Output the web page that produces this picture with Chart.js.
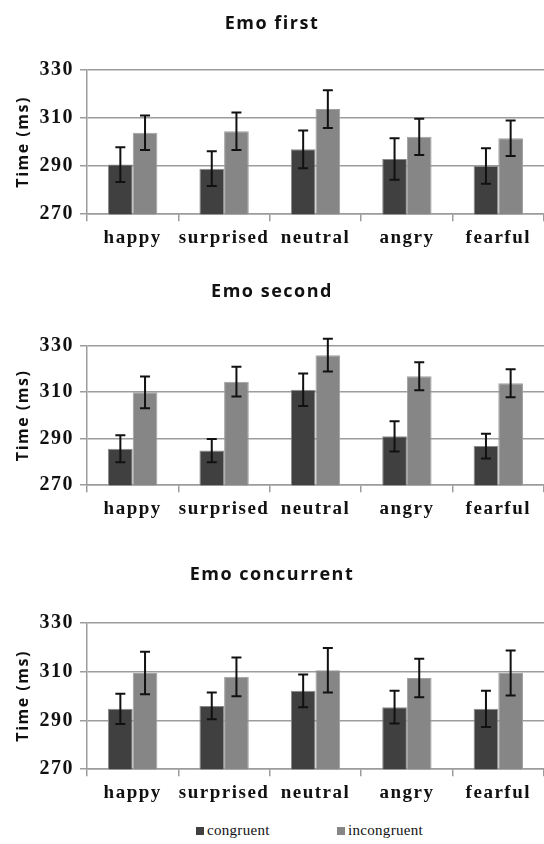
<!DOCTYPE html>
<html>
<head>
<meta charset="utf-8">
<script src="https://cdn.jsdelivr.net/npm/chart.js@4/dist/chart.umd.min.js"></script>
<style>
  body { margin: 0; background: #fff; width: 544px; height: 844px; position: relative; overflow: hidden; }
  .box { position: absolute; left: 0; width: 544px; }
  #legend { position: absolute; top: 822px; left: 0; width: 544px; font: 15px "Liberation Serif", serif; letter-spacing: 0.3px; color: #111; }
  #legend span.item { position: absolute; top: 0; white-space: nowrap; }
  #legend i { display: inline-block; width: 8px; height: 8px; margin-right: 3px; }
</style>
</head>
<body>
<div class="box" style="top:0;height:258px"><canvas id="firstChart"></canvas></div>
<div class="box" style="top:268px;height:261px"><canvas id="secondChart"></canvas></div>
<div class="box" style="top:551px;height:262px"><canvas id="concChart"></canvas></div>
<div id="legend"></div>

<script>
const categories = ["happy", "surprised", "neutral", "angry", "fearful"];
const seriesNames = ["congruent", "incongruent"];
const yTicks = [270, 290, 310, 330];

// Emo first
const firstCong = [290.6, 288.9, 296.9, 292.9, 290.0];
const firstCongErr = [7.2, 7.2, 7.8, 8.6, 7.4];
const firstIncong = [303.8, 304.4, 313.6, 302.1, 301.5];
const firstIncongErr = [7.2, 7.8, 7.8, 7.5, 7.4];

// Emo second
const secondCong = [285.7, 284.9, 311.0, 291.0, 286.8];
const secondCongErr = [5.8, 5.0, 7.0, 6.5, 5.3];
const secondIncong = [309.9, 314.5, 325.9, 316.8, 313.8];
const secondIncongErr = [6.8, 6.4, 7.0, 6.0, 6.0];

// Emo concurrent
const concCong = [294.7, 295.9, 302.1, 295.4, 294.7];
const concCongErr = [6.2, 5.5, 6.7, 6.7, 7.4];
const concIncong = [309.4, 307.8, 310.5, 307.3, 309.4];
const concIncongErr = [8.7, 7.9, 9.1, 7.9, 9.2];

const barColors = ["#404040", "#868686"];
const gridColor = "#9c9c9c";

// the original uses loosely spaced lettering
const spacing = {
  id: "spacing",
  beforeUpdate(chart) { chart.ctx.letterSpacing = "1.5px"; },
  beforeDraw(chart) { chart.ctx.letterSpacing = "1.5px"; }
};

// error bars drawn on top of each bar
const errorBars = {
  id: "errorBars",
  afterDatasetsDraw(chart) {
    const ctx = chart.ctx;
    const y = chart.scales.y;
    ctx.save();
    ctx.strokeStyle = "#111";
    ctx.lineWidth = 2;
    chart.data.datasets.forEach((ds, di) => {
      const meta = chart.getDatasetMeta(di);
      meta.data.forEach((bar, i) => {
        const v = ds.data[i], e = ds.errors[i];
        const top = y.getPixelForValue(v + e);
        const bot = y.getPixelForValue(v - e);
        ctx.beginPath();
        ctx.moveTo(bar.x, top); ctx.lineTo(bar.x, bot);
        ctx.moveTo(bar.x - 5, top); ctx.lineTo(bar.x + 5, top);
        ctx.moveTo(bar.x - 5, bot); ctx.lineTo(bar.x + 5, bot);
        ctx.stroke();
      });
    });
    ctx.restore();
  }
};

function makeChart(id, title, cong, congErr, incong, incongErr, titleGap) {
  return new Chart(document.getElementById(id), {
    type: "bar",
    data: {
      labels: categories,
      datasets: [
        { label: seriesNames[0], data: cong, errors: congErr, backgroundColor: barColors[0], borderColor: "#8a8a8a", borderWidth: 1 },
        { label: seriesNames[1], data: incong, errors: incongErr, backgroundColor: barColors[1], borderColor: "#a0a0a0", borderWidth: 1 }
      ]
    },
    options: {
      responsive: true,
      maintainAspectRatio: false,
      animation: false,
      layout: { padding: { left: 0, right: 0, top: 0, bottom: 4 } },
      categoryPercentage: 0.54,
      barPercentage: 1.0,
      plugins: {
        legend: { display: false },
        tooltip: { enabled: false },
        title: {
          display: true,
          text: title,
          color: "#111",
          font: { family: "'Open Sans', sans-serif", size: 18, weight: "bold" },
          padding: { top: 13, bottom: titleGap }
        }
      },
      scales: {
        x: {
          grid: { display: true, drawOnChartArea: false, drawTicks: true, tickLength: 7, color: gridColor, lineWidth: 1.5 },
          border: { color: gridColor, width: 1.5 },
          ticks: {
            color: "#111", padding: 5, maxRotation: 0, minRotation: 0, autoSkip: false,
            font: { family: "'Liberation Serif', serif", size: 19, weight: "bold" }
          }
        },
        y: {
          min: 270,
          max: 330,
          afterFit(scale) { scale.width = 87; },
          afterBuildTicks(scale) { scale.ticks = yTicks.map(v => ({ value: v })); },
          grid: { color: gridColor, lineWidth: 1.5, tickLength: 7 },
          border: { color: gridColor, width: 1.5 },
          ticks: { color: "#111", padding: 6, font: { family: "'Liberation Serif', serif", size: 20, weight: "bold" } },
          title: {
            display: true,
            text: "Time (ms)",
            color: "#111",
            padding: { top: 14, bottom: 0 },
            font: { family: "'Open Sans', sans-serif", size: 16, weight: "bold" }
          }
        }
      }
    },
    plugins: [spacing, errorBars]
  });
}

makeChart("firstChart", "Emo first", firstCong, firstCongErr, firstIncong, firstIncongErr, 35);
makeChart("secondChart", "Emo second", secondCong, secondCongErr, secondIncong, secondIncongErr, 43);
makeChart("concChart", "Emo concurrent", concCong, concCongErr, concIncong, concIncongErr, 37);

// shared legend under the last chart
const legend = document.getElementById("legend");
const legendLeft = [196, 337];
seriesNames.forEach((name, i) => {
  const s = document.createElement("span");
  s.className = "item";
  s.style.left = legendLeft[i] + "px";
  s.innerHTML = '<i style="background:' + barColors[i] + '"></i>' + name;
  legend.appendChild(s);
});
</script>
</body>
</html>
